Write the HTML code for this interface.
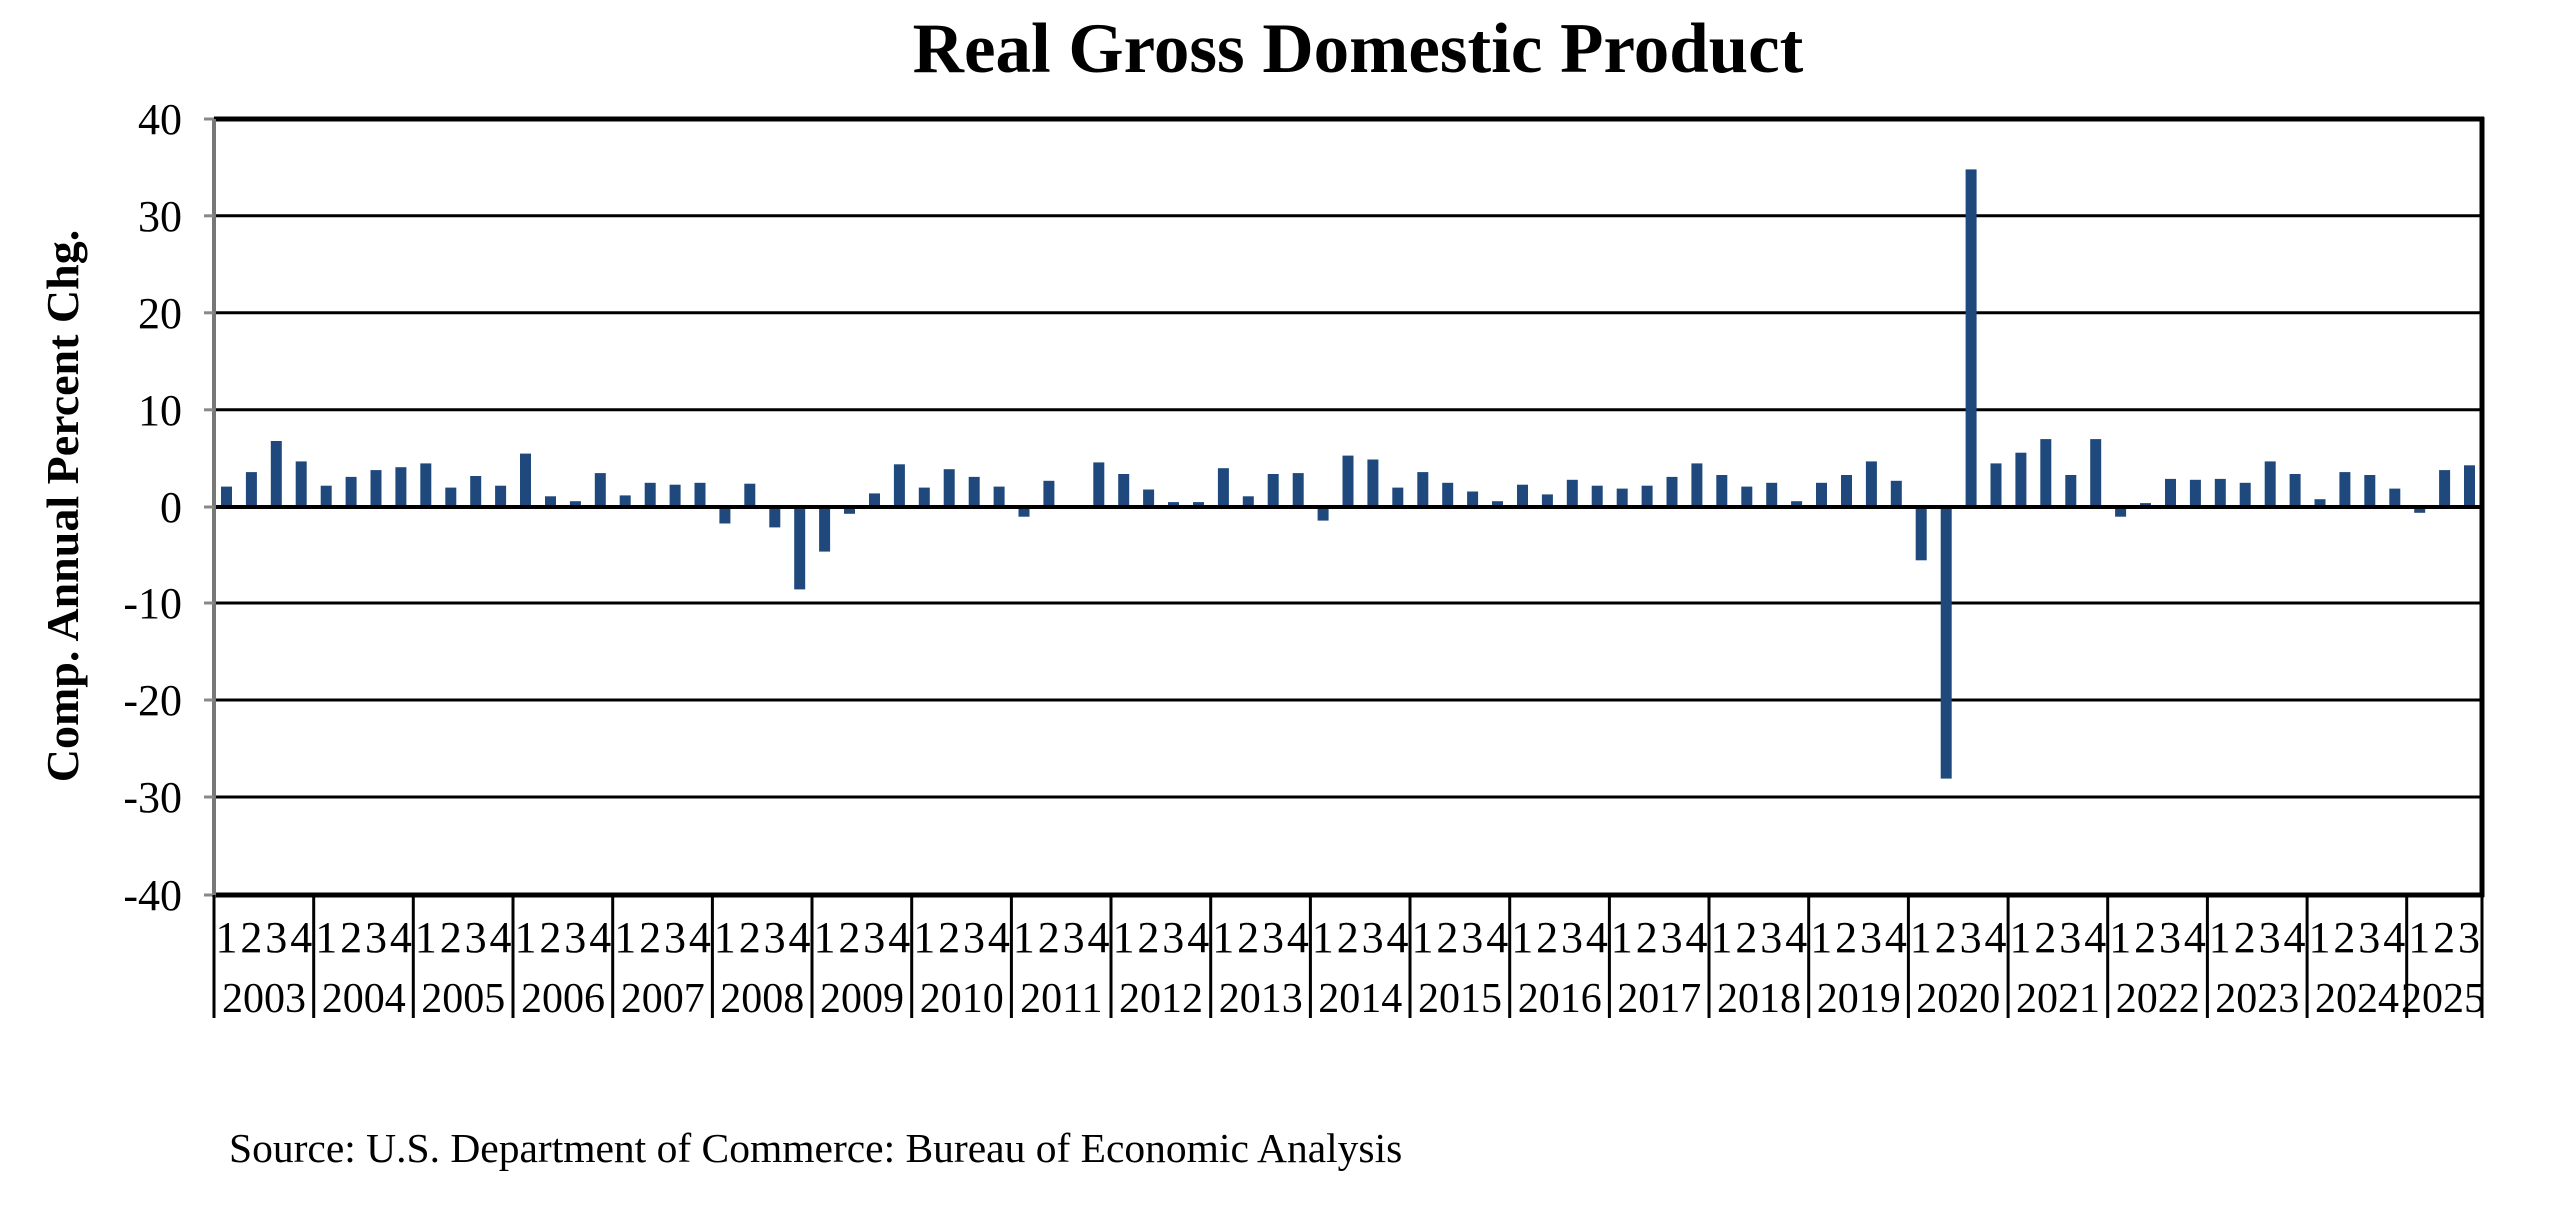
<!DOCTYPE html>
<html><head><meta charset="utf-8"><style>
html,body{margin:0;padding:0;background:#fff}
svg{display:block}
text{font-family:"Liberation Serif",serif;fill:#000}
</style></head><body>
<svg id="c" width="2560" height="1205" viewBox="0 0 2560 1205">
<text x="1358" y="72" font-size="71" font-weight="bold" text-anchor="middle">Real Gross Domestic Product</text>
<text transform="translate(78,506) rotate(-90)" font-size="46" font-weight="bold" text-anchor="middle">Comp. Annual Percent Chg.</text>
<g stroke="#000" stroke-width="3">
<line x1="214" y1="215.8" x2="2482" y2="215.8"/>
<line x1="214" y1="312.8" x2="2482" y2="312.8"/>
<line x1="214" y1="409.8" x2="2482" y2="409.8"/>
<line x1="214" y1="603" x2="2482" y2="603"/>
<line x1="214" y1="700" x2="2482" y2="700"/>
<line x1="214" y1="797" x2="2482" y2="797"/>
</g>
<g id="bars" fill="#1f497d"></g>
<line x1="214" y1="507" x2="2482" y2="507" stroke="#000" stroke-width="4"/>
<line x1="214" y1="119" x2="2484" y2="119" stroke="#000" stroke-width="5"/>
<line x1="214" y1="895" x2="2484" y2="895" stroke="#000" stroke-width="5"/>
<line x1="2482" y1="117" x2="2482" y2="897" stroke="#000" stroke-width="5"/>
<line x1="214" y1="119" x2="214" y2="897" stroke="#777" stroke-width="4"/>
<g stroke="#888" stroke-width="3">
<line x1="204" y1="119" x2="214" y2="119"/><line x1="204" y1="215.8" x2="214" y2="215.8"/>
<line x1="204" y1="312.8" x2="214" y2="312.8"/><line x1="204" y1="409.8" x2="214" y2="409.8"/>
<line x1="204" y1="507" x2="214" y2="507"/><line x1="204" y1="603" x2="214" y2="603"/>
<line x1="204" y1="700" x2="214" y2="700"/><line x1="204" y1="797" x2="214" y2="797"/>
<line x1="204" y1="895" x2="214" y2="895"/>
</g>
<g font-size="44" text-anchor="end">
<text x="182" y="134">40</text><text x="182" y="231">30</text><text x="182" y="328">20</text>
<text x="182" y="425">10</text><text x="182" y="522">0</text><text x="182" y="618">-10</text>
<text x="182" y="715">-20</text><text x="182" y="812">-30</text><text x="182" y="910">-40</text>
</g>
<g id="div" stroke="#000" stroke-width="3"></g>
<g text-anchor="middle">
<g font-size="44">
<text x="226.5 251.4 276.3 301.2" y="952">1234</text>
<text x="326.2 351.1 376 400.9" y="952">1234</text>
<text x="425.8 450.7 475.6 500.5" y="952">1234</text>
<text x="525.5 550.4 575.3 600.2" y="952">1234</text>
<text x="625.2 650.1 675 699.9" y="952">1234</text>
<text x="724.8 749.7 774.6 799.5" y="952">1234</text>
<text x="824.5 849.4 874.3 899.2" y="952">1234</text>
<text x="924.2 949.1 974 998.9" y="952">1234</text>
<text x="1023.8 1048.7 1073.6 1098.5" y="952">1234</text>
<text x="1123.5 1148.4 1173.3 1198.2" y="952">1234</text>
<text x="1223.2 1248.1 1273 1297.9" y="952">1234</text>
<text x="1322.8 1347.7 1372.6 1397.5" y="952">1234</text>
<text x="1422.5 1447.4 1472.3 1497.2" y="952">1234</text>
<text x="1522.2 1547.1 1572 1596.9" y="952">1234</text>
<text x="1621.8 1646.7 1671.6 1696.5" y="952">1234</text>
<text x="1721.5 1746.4 1771.3 1796.2" y="952">1234</text>
<text x="1821.2 1846.1 1871 1895.9" y="952">1234</text>
<text x="1920.8 1945.7 1970.6 1995.5" y="952">1234</text>
<text x="2020.5 2045.4 2070.3 2095.2" y="952">1234</text>
<text x="2120.2 2145.1 2170 2194.9" y="952">1234</text>
<text x="2219.8 2244.7 2269.6 2294.5" y="952">1234</text>
<text x="2319.5 2344.4 2369.3 2394.2" y="952">1234</text>
<text x="2419.2 2444.1 2469" y="952">123</text>
</g>
<g font-size="42">
<text x="264" y="1012">2003</text><text x="363.7" y="1012">2004</text><text x="463.3" y="1012">2005</text>
<text x="563" y="1012">2006</text><text x="662.7" y="1012">2007</text><text x="762.3" y="1012">2008</text>
<text x="862" y="1012">2009</text><text x="961.7" y="1012">2010</text><text x="1061.3" y="1012">2011</text>
<text x="1161" y="1012">2012</text><text x="1260.7" y="1012">2013</text><text x="1360.3" y="1012">2014</text>
<text x="1460" y="1012">2015</text><text x="1559.7" y="1012">2016</text><text x="1659.3" y="1012">2017</text>
<text x="1759" y="1012">2018</text><text x="1858.7" y="1012">2019</text><text x="1958.3" y="1012">2020</text>
<text x="2058" y="1012">2021</text><text x="2157.7" y="1012">2022</text><text x="2257.3" y="1012">2023</text>
<text x="2357" y="1012">2024</text><text x="2443" y="1012">2025</text>
</g>
</g>
<text x="229" y="1162" font-size="41.5">Source: U.S. Department of Commerce: Bureau of Economic Analysis</text>
</svg>
<script>
var d=[2.1,3.6,6.8,4.7, 2.2,3.1,3.8,4.1, 4.5,2.0,3.2,2.2, 5.5,1.1,0.6,3.5, 1.2,2.5,2.3,2.5,
-1.7,2.4,-2.1,-8.5, -4.6,-0.7,1.4,4.4, 2.0,3.9,3.1,2.1, -1.0,2.7,0.0,4.6, 3.4,1.8,0.5,0.5,
4.0,1.1,3.4,3.5, -1.4,5.3,4.9,2.0, 3.6,2.5,1.6,0.6, 2.3,1.3,2.8,2.2, 1.9,2.2,3.1,4.5,
3.3,2.1,2.5,0.6, 2.5,3.3,4.7,2.7, -5.5,-28.0,34.8,4.5, 5.6,7.0,3.3,7.0, -1.0,0.4,2.9,2.8,
2.9,2.5,4.7,3.4, 0.8,3.6,3.3,1.9, -0.6,3.8,4.3];
var g=document.getElementById("bars"),cw=(2482-214)/91,s="";
for(var i=0;i<d.length;i++){var x=214+cw*(i+0.5)-5.5,v=d[i],h=Math.abs(v)*9.7,y=v>=0?507-h:507;
s+='<rect x="'+x.toFixed(1)+'" y="'+y.toFixed(1)+'" width="11" height="'+h.toFixed(1)+'"/>';}
g.innerHTML=s;
var dv=document.getElementById("div"),t="";
for(var k=0;k<23;k++){var xx=214+99.67*k;t+='<line x1="'+xx.toFixed(1)+'" y1="895" x2="'+xx.toFixed(1)+'" y2="1018"/>';}
t+='<line x1="2482" y1="895" x2="2482" y2="1018"/>';dv.innerHTML=t;
</script>
</body></html>
